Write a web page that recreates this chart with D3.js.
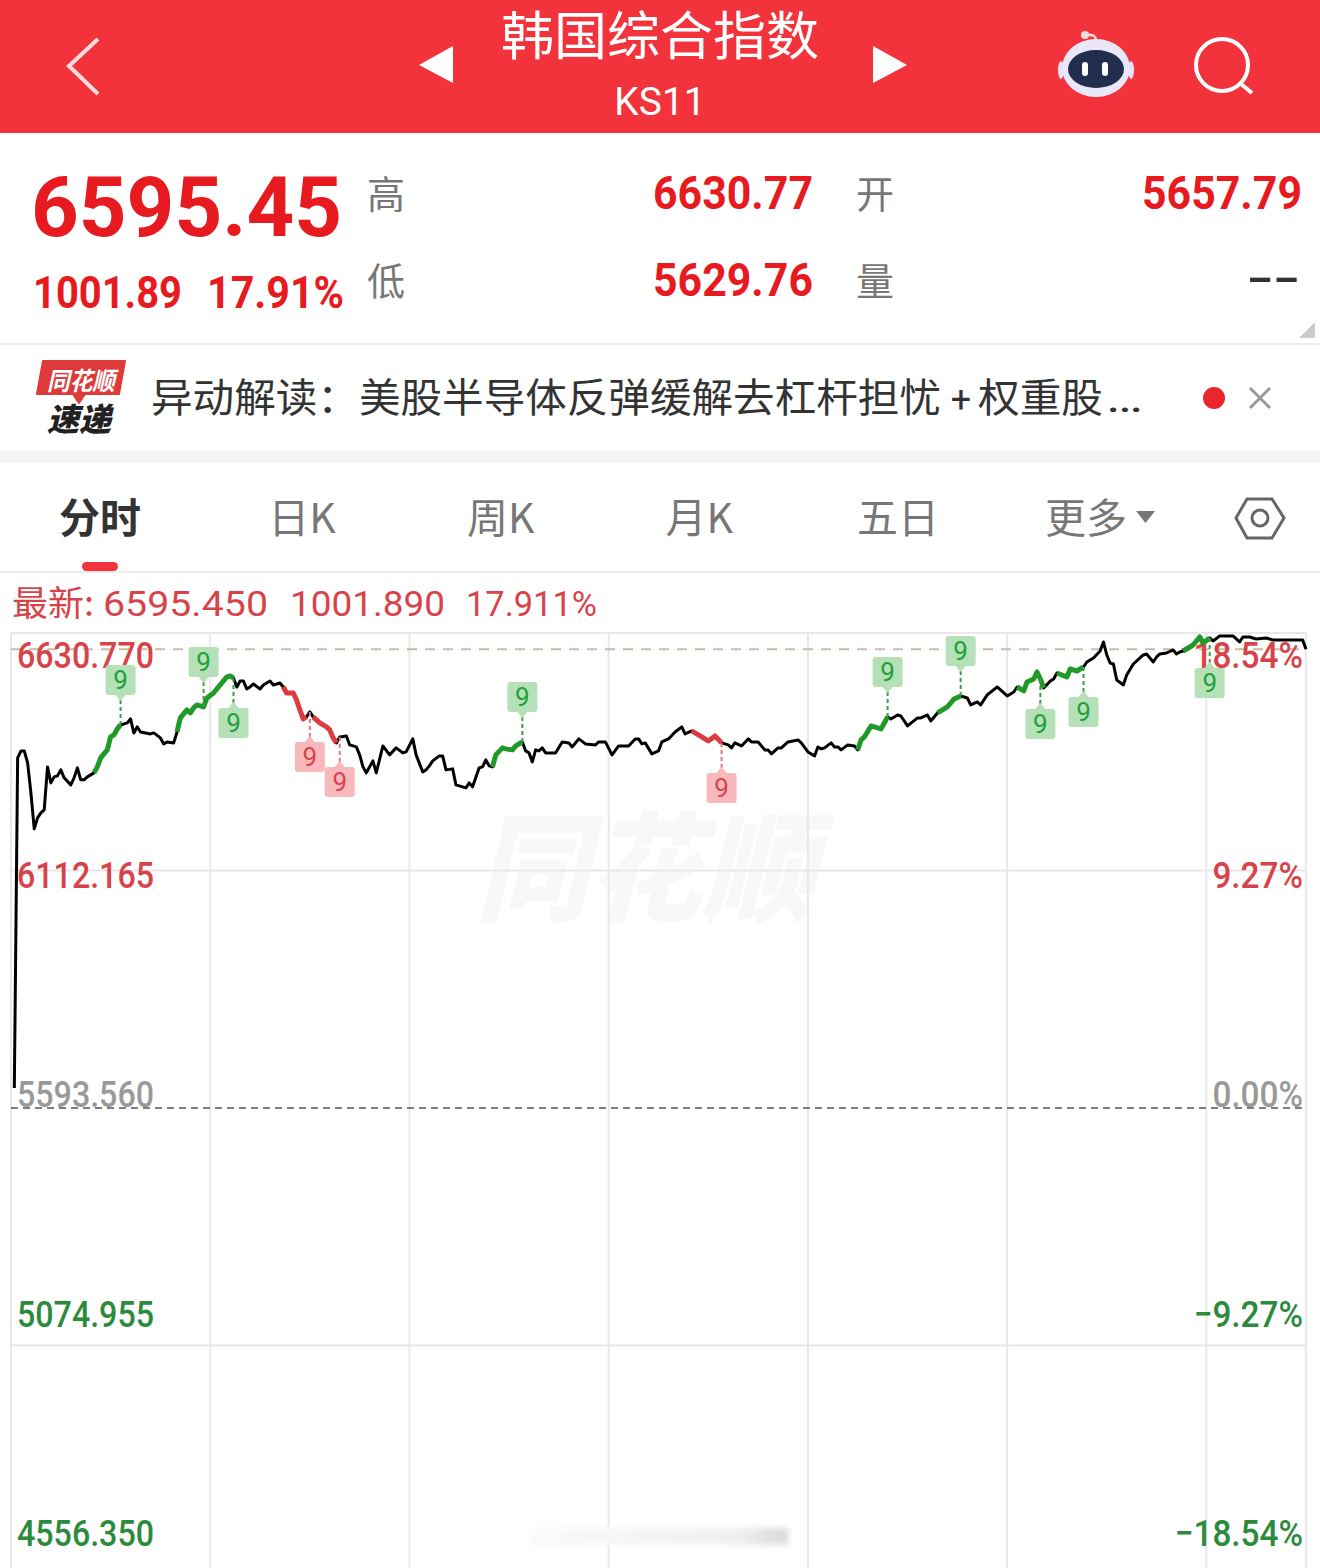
<!DOCTYPE html>
<html>
<head>
<meta charset="utf-8">
<script src="https://cdn.jsdelivr.net/npm/d3@7"></script>
<style>
  html, body { margin: 0; padding: 0; background: #fff; }
  svg { display: block; }
  text { font-family: "Noto Sans CJK SC", "Noto Sans", sans-serif; }
</style>
</head>
<body>
<svg id="chart"></svg>
<script>
// Minutes since the open and the index level at each of them
const minutes = [1,2,3,4,5,6,7,8,9,10,11,12,13,14,15,16,18,19,20,21,22,23,25,26,27,29,30,31,32,33,35,36,37,38,39,42,43,45,46,47,49,50,51,53,54,55,56,58,59,61,63,65,66,67,68,69,70,71,72,73,75,76,78,79,81,82,83,85,86,87,88,89,90,91,93,95,96,97,98,99,101,102,104,105,106,107,109,110,112,114,116,118,119,121,122,124,125,126,127,129,130,131,133,134,136,137,138,139,141,142,143,144,145,146,148,149,151,152,154,155,156,157,158,159,160,161,164,166,168,169,171,173,176,177,179,181,183,186,188,189,190,191,193,195,196,198,200,202,203,205,207,210,212,214,216,217,218,220,222,223,225,227,228,229,231,232,234,237,238,240,242,243,244,245,247,248,249,250,252,254,255,256,257,259,262,264,265,267,268,270,273,274,276,277,279,282,284,286,288,289,291,292,294,297,298,300,302,303,305,306,308,309,310,311,313,314,315,318,319,321,323,324,326,328,329,330,331,332,333,335,336,338,341,342,344,345,346,348,350,351,352,353,356,358,359,361,362,364,368,370,371,373,375,378,380,389,390];
const prices = [5637.3,6358.1,6373.3,6373.3,6347.2,6281.7,6203.1,6227.1,6238.0,6244.6,6338.4,6303.5,6316.6,6318.8,6331.9,6314.5,6299.2,6314.5,6336.3,6310.1,6310.1,6316.6,6325.4,6338.4,6358.1,6375.5,6403.8,6408.2,6421.3,6430.0,6434.4,6443.1,6412.6,6425.7,6414.7,6410.4,6412.6,6401.7,6388.6,6392.9,6390.8,6414.7,6445.3,6462.7,6456.2,6467.1,6473.6,6469.3,6488.9,6499.8,6517.3,6534.8,6536.9,6532.6,6512.9,6526.0,6526.0,6508.6,6512.9,6519.5,6508.6,6517.3,6526.0,6517.3,6521.6,6512.9,6499.8,6499.8,6484.5,6462.7,6443.1,6447.5,6458.4,6447.5,6434.4,6425.7,6419.1,6401.7,6390.8,6403.8,6406.0,6386.4,6382.0,6364.6,6338.4,6325.4,6351.5,6325.4,6384.2,6364.6,6379.9,6369.0,6371.1,6399.5,6364.6,6327.5,6331.9,6340.6,6351.5,6362.4,6362.4,6331.9,6334.1,6299.2,6294.8,6292.6,6303.5,6294.8,6336.3,6338.4,6353.7,6340.6,6338.4,6364.6,6379.9,6377.7,6375.5,6384.2,6392.9,6373.3,6369.0,6349.3,6375.5,6373.3,6379.9,6369.0,6369.0,6392.9,6390.8,6382.0,6399.5,6388.6,6386.4,6392.9,6392.9,6364.6,6384.2,6384.2,6399.5,6399.5,6388.6,6390.8,6366.8,6373.3,6392.9,6399.5,6414.7,6425.7,6410.4,6416.9,6408.2,6395.1,6406.0,6390.8,6386.4,6379.9,6390.8,6384.2,6399.5,6392.9,6392.9,6375.5,6375.5,6366.8,6379.9,6379.9,6392.9,6397.3,6390.8,6371.1,6362.4,6382.0,6377.7,6379.9,6390.8,6382.0,6382.0,6375.5,6386.4,6384.2,6375.5,6397.3,6403.8,6427.8,6421.3,6447.5,6443.1,6451.8,6449.6,6427.8,6445.3,6445.3,6451.8,6438.7,6456.2,6469.3,6486.7,6493.3,6488.9,6473.6,6480.2,6473.6,6495.5,6512.9,6506.4,6493.3,6502.0,6512.9,6504.2,6523.8,6530.4,6545.7,6530.4,6510.7,6526.0,6530.4,6543.5,6534.8,6552.2,6547.8,6556.6,6567.5,6576.2,6591.5,6611.2,6582.8,6565.3,6563.1,6528.2,6517.3,6539.1,6563.1,6582.8,6585.0,6567.5,6578.4,6585.0,6587.1,6593.7,6585.0,6589.3,6591.5,6604.6,6622.1,6609.0,6619.9,6613.4,6624.3,6624.3,6611.2,6622.1,6622.1,6617.8,6619.9,6615.6,6615.6,6595.45];

// Stretches of the line highlighted by the nine-count signal
const upRuns = [[25,33],[50,67],[145,154],[255,264],[279,286],[303,311],[315,323],[353,361]];
const downRuns = [[82,89],[91,98],[205,214]];

// Minutes where a "9" flag hangs, and which way it points
const flagsAbove = [33,58,154,264,286];
const flagsBelow = [67,310,323,361];
const redFlagsBelow = [90,99,214];

// Axis labels
const priceLabels = ["6630.770","6112.165","5593.560","5074.955","4556.350"];
const percentLabels = ["18.54%","9.27%","0.00%","−9.27%","−18.54%"];
const axisLevels = [6630.77,6112.165,5593.56,5074.955,4556.35];
const hourMarks = [0,60,120,180,240,300,360,390];
const tabs = ["日K","周K","月K","五日"];

const lastPrice = 6595.45;
const prevClose = 5593.56;

const width = 1320, height = 1568;
const RED = "#f2333b", NUM_RED = "#e71a20", AXIS_RED = "#d8434a", AXIS_GREEN = "#2c8a3c";
const condensed = "Roboto, 'Noto Sans', sans-serif";

const svg = d3.select("#chart").attr("width", width).attr("height", height)
    .attr("viewBox", [0, 0, width, height]);

const defs = svg.append("defs");
defs.append("filter").attr("id", "smudge").attr("x", "-10%").attr("width", "120%")
    .attr("y", "-60%").attr("height", "220%")
    .append("feGaussianBlur").attr("stdDeviation", 3);
const smudgeGrad = defs.append("linearGradient").attr("id", "smudgeGrad");
smudgeGrad.append("stop").attr("offset", "0%").attr("stop-color", "#fafafa");
smudgeGrad.append("stop").attr("offset", "80%").attr("stop-color", "#f0f0f0");
smudgeGrad.append("stop").attr("offset", "100%").attr("stop-color", "#d8d8d8");

// Text helper: len squeezes the run to the width it has in the app's narrow font
function label(parent, str, x, y, opts = {}) {
    const t = parent.append("text").attr("x", x).attr("y", y).text(str)
        .attr("font-size", opts.size || 36)
        .attr("fill", opts.fill || "#333")
        .attr("text-anchor", opts.anchor || "start");
    if (opts.weight) t.attr("font-weight", opts.weight);
    if (opts.family) t.style("font-family", opts.family);
    if (opts.len) t.attr("textLength", opts.len).attr("lengthAdjust", "spacingAndGlyphs");
    return t;
}

// ---- header ----
const header = svg.append("g");
header.append("rect").attr("width", width).attr("height", 133).attr("fill", RED);
header.append("path").attr("d", "M98,39 L69,66 L98,94").attr("fill", "none")
    .attr("stroke", "#fbdcdc").attr("stroke-width", 4);
header.append("path").attr("d", "M453,46 L453,83 L419,65 Z").attr("fill", "#fff");
header.append("path").attr("d", "M873,46 L873,83 L907,65 Z").attr("fill", "#fff");
label(header, "韩国综合指数", 660, 55, {size: 52, fill: "#fff", anchor: "middle", len: 318});
label(header, "KS11", 660, 115, {size: 39, fill: "#fff", anchor: "middle", family: condensed});

// robot
const robot = header.append("g");
robot.append("path").attr("d", "M1084,35 Q1097,33 1096,42").attr("fill", "none")
    .attr("stroke", "#f3d9e2").attr("stroke-width", 2.5);
robot.append("circle").attr("cx", 1085).attr("cy", 35).attr("r", 4).attr("fill", "#f3d9e2");
robot.append("ellipse").attr("cx", 1061).attr("cy", 70).attr("rx", 3).attr("ry", 9).attr("fill", "#e4e2fb");
robot.append("ellipse").attr("cx", 1131).attr("cy", 70).attr("rx", 3).attr("ry", 9).attr("fill", "#e4e2fb");
robot.append("ellipse").attr("cx", 1096).attr("cy", 68).attr("rx", 34).attr("ry", 29).attr("fill", "#e9e8fb");
robot.append("ellipse").attr("cx", 1096).attr("cy", 69).attr("rx", 28).attr("ry", 19).attr("fill", "#232e4e");
[1085, 1105].forEach(cx => robot.append("rect").attr("x", cx - 3).attr("y", 62).attr("width", 6)
    .attr("height", 14).attr("rx", 3).attr("fill", "#fff"));

// search
header.append("circle").attr("cx", 1222).attr("cy", 65).attr("r", 26).attr("fill", "none")
    .attr("stroke", "#fff").attr("stroke-width", 4);
header.append("line").attr("x1", 1241).attr("y1", 84).attr("x2", 1252).attr("y2", 93)
    .attr("stroke", "#fff").attr("stroke-width", 4);

// ---- quote panel ----
const quote = svg.append("g");
label(quote, "6595.45", 31, 236, {size: 84, fill: NUM_RED, weight: 700, family: condensed, len: 311});
label(quote, "1001.89", 33, 308, {size: 44, fill: NUM_RED, weight: 700, family: condensed, len: 149});
label(quote, "17.91%", 207, 308, {size: 44, fill: NUM_RED, weight: 700, family: condensed, len: 137});
label(quote, "高", 367, 208, {size: 38, fill: "#777"});
label(quote, "低", 367, 295, {size: 38, fill: "#777"});
label(quote, "开", 856, 208, {size: 38, fill: "#777"});
label(quote, "量", 856, 295, {size: 38, fill: "#777"});
label(quote, "6630.77", 653, 209, {size: 46, fill: NUM_RED, weight: 700, family: condensed, len: 160});
label(quote, "5629.76", 653, 296, {size: 46, fill: NUM_RED, weight: 700, family: condensed, len: 160});
label(quote, "5657.79", 1142, 209, {size: 46, fill: NUM_RED, weight: 700, family: condensed, len: 160});
label(quote, "--", 1247, 294, {size: 46, fill: "#333", weight: 500, family: condensed, len: 53});
quote.append("path").attr("d", "M1315,322 L1315,338 L1299,338 Z").attr("fill", "#ccc");
quote.append("rect").attr("y", 343).attr("width", width).attr("height", 2).attr("fill", "#ececec");

// ---- news strip ----
const news = svg.append("g");
news.append("path").attr("d", "M43,361 L125,361 L119,394 L85,394 L79,403 L73,394 L37,394 Z")
    .attr("fill", "#de3a3a").attr("stroke", "#de3a3a").attr("stroke-width", 2).attr("stroke-linejoin", "round");
label(news, "同花顺", 81, 390, {size: 25, fill: "#fff", weight: 700, anchor: "middle", len: 68})
    .style("font-style", "italic");
label(news, "速递", 79, 431, {size: 32, fill: "#222", weight: 900, anchor: "middle", len: 64})
    .style("font-style", "italic");
label(news, "异动解读：美股半导体反弹缓解去杠杆担忧", 151, 412, {size: 40, fill: "#333", len: 790});
label(news, "+", 961, 412, {size: 36, fill: "#333", anchor: "middle", family: condensed});
label(news, "权重股", 978, 412, {size: 40, fill: "#333", len: 125});
label(news, "…", 1106, 412, {size: 40, fill: "#333", family: condensed, len: 37});
news.append("circle").attr("cx", 1214).attr("cy", 398).attr("r", 11).attr("fill", "#e8262c");
news.append("path").attr("d", "M1250,388 L1270,408 M1270,388 L1250,408").attr("stroke", "#999").attr("stroke-width", 3);
news.append("rect").attr("y", 451).attr("width", width).attr("height", 12).attr("fill", "#f5f5f5");

// ---- tabs ----
const tabBar = svg.append("g");
label(tabBar, "分时", 100, 533, {size: 41, fill: "#333", weight: 700, anchor: "middle"});
const tabCentres = d3.scalePoint().domain(tabs).range([302, 898]);
tabs.forEach(t => label(tabBar, t, tabCentres(t), 533, {size: 41, fill: "#777", anchor: "middle"}));
label(tabBar, "更多", 1086, 533, {size: 41, fill: "#777", anchor: "middle"});
tabBar.append("path").attr("d", "M1136,511 L1155,511 L1145.5,523 Z").attr("fill", "#777");
tabBar.append("path").attr("d", "M1247,499 L1272,499 L1284,518 L1272,538 L1247,538 L1236,518 Z")
    .attr("fill", "none").attr("stroke", "#666").attr("stroke-width", 3);
tabBar.append("circle").attr("cx", 1260).attr("cy", 518).attr("r", 8).attr("fill", "none")
    .attr("stroke", "#666").attr("stroke-width", 3);
tabBar.append("rect").attr("x", 82).attr("y", 562).attr("width", 36).attr("height", 9).attr("rx", 4.5).attr("fill", "#f2333b");
tabBar.append("rect").attr("y", 571).attr("width", width).attr("height", 2).attr("fill", "#ececec");

const latest = svg.append("g");
label(latest, "最新:", 12, 616, {size: 35, fill: AXIS_RED, len: 82});
label(latest, "6595.450", 103, 616, {size: 35, fill: AXIS_RED, family: condensed, len: 165});
label(latest, "1001.890", 290, 616, {size: 35, fill: AXIS_RED, family: condensed, len: 155});
label(latest, "17.911%", 466, 616, {size: 35, fill: AXIS_RED, family: condensed, len: 131});

// ---- chart ----
const x = d3.scaleLinear().domain([0, 390]).range([11, 1306]);
const y = d3.scaleLinear().domain([4556.35, 6630.77]).range([1583, 633]);
// the price labels sit evenly spaced, not on the grid lines
const labelY = d3.scaleLinear().domain([0, 4]).range([668, 1546]);

const chart = svg.append("g");

// watermark
label(chart, "同花顺", 645, 912, {size: 118, fill: "#f8f8f8", weight: 900, anchor: "middle", len: 340})
    .style("font-style", "italic");

// grid
chart.selectAll("line.vgrid").data(hourMarks).join("line").attr("class", "vgrid")
    .attr("x1", d => x(d)).attr("x2", d => x(d))
    .attr("y1", y(6630.77)).attr("y2", height)
    .attr("stroke", "#e8e8e8").attr("stroke-width", 2);
chart.selectAll("line.hgrid").data(axisLevels.filter(d => d !== prevClose && d !== 4556.35)).join("line").attr("class", "hgrid")
    .attr("x1", x(0)).attr("x2", x(390))
    .attr("y1", d => y(d)).attr("y2", d => y(d))
    .attr("stroke", "#e8e8e8").attr("stroke-width", 2);
chart.append("line").attr("x1", x(0)).attr("x2", x(390)).attr("y1", y(prevClose)).attr("y2", y(prevClose))
    .attr("stroke", "#555").attr("stroke-width", 1.5).attr("stroke-dasharray", "7,5");
chart.append("line").attr("x1", x(0)).attr("x2", x(390)).attr("y1", y(lastPrice)).attr("y2", y(lastPrice))
    .attr("stroke", "#cdbb9c").attr("stroke-width", 2).attr("stroke-dasharray", "10,8");

// smudge on the bottom edge of the screenshot
chart.append("rect").attr("x", 530).attr("y", 1528).attr("width", 258).attr("height", 17)
    .attr("fill", "url(#smudgeGrad)").attr("filter", "url(#smudge)");

// axis labels
const labelColor = i => i < 2 ? AXIS_RED : i === 2 ? "#999" : AXIS_GREEN;
priceLabels.forEach((d, i) => label(chart, d, 17, labelY(i), {size: 37, fill: labelColor(i), weight: 500, family: condensed, len: 137}));
percentLabels.forEach((d, i) => {
    const t = label(chart, d, 1303, labelY(i), {size: 37, fill: labelColor(i), weight: 500, family: condensed, anchor: "end"});
    t.attr("textLength", t.node().getComputedTextLength() * 0.9).attr("lengthAdjust", "spacingAndGlyphs");
});

// price line
const points = minutes.map((m, i) => ({m, p: prices[i]}));
const line = d3.line().x(d => x(d.m)).y(d => y(d.p));
chart.append("path").datum(points).attr("d", line).attr("fill", "none")
    .attr("stroke", "#000").attr("stroke-width", 3).attr("stroke-linejoin", "round");

const runs = [...upRuns.map(r => [r, "#1f9a28"]), ...downRuns.map(r => [r, "#dc3c40"])];
runs.forEach(([r, color]) => {
    chart.append("path").datum(points.filter(d => d.m >= r[0] && d.m <= r[1])).attr("d", line)
        .attr("fill", "none").attr("stroke", color).attr("stroke-width", 5)
        .attr("stroke-linejoin", "round");
});

// "9" flags
function flag(m, dir, box, ink, dash) {
    const p = points.find(d => d.m === m).p;
    const px = x(m), py = y(p);
    const cy = py + dir * 45;
    const g = chart.append("g");
    g.append("line").attr("x1", px).attr("x2", px).attr("y1", py).attr("y2", cy)
        .attr("stroke", dash).attr("stroke-width", 2).attr("stroke-dasharray", "4,3");
    const tip = cy - dir * 21;
    g.append("path").attr("d", `M${px - 6},${cy - dir * 14} L${px},${tip} L${px + 6},${cy - dir * 14} Z`).attr("fill", box);
    g.append("rect").attr("x", px - 15).attr("y", cy - 15).attr("width", 30).attr("height", 30).attr("rx", 3).attr("fill", box);
    label(g, "9", px, cy + 9, {size: 26, fill: ink, anchor: "middle", family: condensed});
}
flagsAbove.forEach(m => flag(m, -1, "#b5e0b8", "#22a03a", "#3c9a48"));
flagsBelow.forEach(m => flag(m, 1, "#b5e0b8", "#22a03a", "#3c9a48"));
redFlagsBelow.forEach(m => flag(m, 1, "#f8b9bc", "#d8434a", "#d87a7e"));
</script>
</body>
</html>
